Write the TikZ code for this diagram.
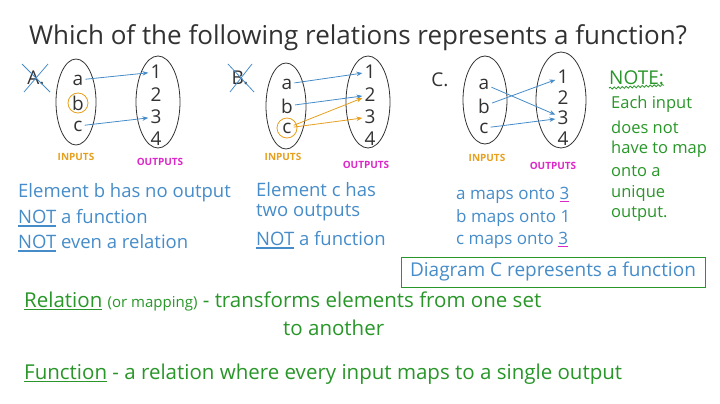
\documentclass[tikz,border=0pt]{standalone}
\usepackage{fontspec}
\setmainfont{Open Sans}
\usetikzlibrary{arrows.meta,decorations.pathmorphing,shapes.geometric}
\definecolor{inkblue}{RGB}{70,140,200}
\definecolor{inkgreen}{RGB}{40,150,40}
\definecolor{inkorange}{RGB}{230,160,30}
\definecolor{inkpink}{RGB}{220,40,200}
\definecolor{inkgray}{RGB}{50,50,50}
\tikzset{setOval/.style={draw=inkgray,thick,ellipse,minimum width=40pt,minimum height=86pt},
         elem/.style={inner sep=1pt,font=\fontsize{19}{19}\selectfont,text=inkgray},
         mapArrow/.style={-{Stealth[length=6pt]},thick,inkblue,shorten >=1pt,shorten <=1pt},
         twoArrow/.style={mapArrow,inkorange},
         setLabel/.style={font=\bfseries\fontsize{10}{10}\selectfont},
         blueLine/.style={anchor=west,text=inkblue,font=\fontsize{18.5}{18.5}\selectfont,inner sep=0pt},
         greenLine/.style={anchor=west,text=inkgreen,font=\fontsize{20.5}{20.5}\selectfont,inner sep=0pt},
         noteLine/.style={anchor=west,text=inkgreen,font=\fontsize{16.5}{16.5}\selectfont,inner sep=0pt}}
\newcommand{\ul}[2][inkblue]{\setbox0\hbox{#2}\rlap{\color{#1}\rule[-3pt]{\wd0}{1.2pt}}\box0}
\begin{document}
\begin{tikzpicture}[x=1pt,y=-1pt]
\useasboundingbox (0,0) rectangle (720,404);
%TITLE
\node [text=inkgray,font=\fontsize{26}{26}\selectfont] (title) at (358,38) {Which of the following relations represents a function?};

%A
\node [elem] (labA) at (36,78) {A.};
\draw [inkblue,thick] (22,64) -- (50,92) (48,64) -- (24,92);
\node [setOval] (inA) at (76,102) {};
\node [setOval,minimum width=44pt,minimum height=92pt] (outA) at (158,102) {};
\node [elem] (Aa) at (78,80) {a};
\node [elem] (Ab) at (78,103) {b};
\node [elem] (Ac) at (78,126) {c};
\draw [inkorange,thick] (Ab) circle (10pt);
\node [elem] (A1) at (156,72) {1};
\node [elem] (A2) at (156,95) {2};
\node [elem] (A3) at (156,117) {3};
\node [elem] (A4) at (156,139) {4};
\node [setLabel,text=inkorange] (inLabA) at (76,157) {INPUTS};
\node [setLabel,text=inkpink] (outLabA) at (160,162) {OUTPUTS};
\draw [mapArrow] (Aa) -- (A1);
\draw [mapArrow] (Ac) -- (A3);

%B
\node [elem] (labB) at (240,78) {B.};
\draw [inkblue,thick] (228,64) -- (254,92) (252,64) -- (230,92);
\node [setOval] (inB) at (286,106) {};
\node [setOval,minimum width=44pt,minimum height=92pt] (outB) at (368,102) {};
\node [elem] (Ba) at (287,84) {a};
\node [elem] (Bb) at (287,106) {b};
\node [elem] (Bc) at (287,128) {c};
\draw [inkorange,thick] (Bc) circle (10pt);
\node [elem] (B1) at (370,72) {1};
\node [elem] (B2) at (370,95) {2};
\node [elem] (B3) at (370,117) {3};
\node [elem] (B4) at (370,139) {4};
\node [setLabel,text=inkorange] (inLabB) at (283,157) {INPUTS};
\node [setLabel,text=inkpink] (outLabB) at (366,165) {OUTPUTS};
\draw [mapArrow] (Ba) -- (B1);
\draw [mapArrow] (Bb) -- (B2);
\draw [twoArrow] (Bc) -- (B2);
\draw [twoArrow] (Bc) -- (B3);

%C
\node [elem] (labC) at (440,80) {C.};
\node [setOval,minimum width=44pt,minimum height=88pt] (inC) at (485,100) {};
\node [setOval,minimum width=50pt,minimum height=96pt] (outC) at (561,100) {};
\node [elem] (Ca) at (484,84) {a};
\node [elem] (Cb) at (484,106) {b};
\node [elem] (Cc) at (484,128) {c};
\node [elem] (C1) at (563,77) {1};
\node [elem] (C2) at (563,98) {2};
\node [elem] (C3) at (563,118) {3};
\node [elem] (C4) at (563,139) {4};
\node [setLabel,text=inkorange] (inLabC) at (487,158) {INPUTS};
\node [setLabel,text=inkpink] (outLabC) at (553,166) {OUTPUTS};
\draw [mapArrow] (Ca) -- (C3);
\draw [mapArrow] (Cb) -- (C1);
\draw [mapArrow] (Cc) -- (C3);

%NOTE
\node [noteLine,font=\fontsize{19}{19}\selectfont] (note) at (609,78) {NOTE:};
\draw [inkgreen,thick,decorate,decoration={snake,amplitude=1pt,segment length=4pt}] (note.south west) ++(0,3) -- (note.south east);
\node [noteLine] (n1) at (611,104) {Each input};
\node [noteLine] (n2) at (611,127) {does not};
\node [noteLine] (n3) at (611,149) {have to map};
\node [noteLine] (n4) at (611,171) {onto a};
\node [noteLine] (n5) at (611,193) {unique};
\node [noteLine] (n6) at (611,214) {output.};

%TEXTS
\node [blueLine] (tA1) at (18,193) {Element b has no output};
\node [blueLine] (tA2) at (18,218) {\ul{NOT}\ a function};
\node [blueLine] (tA3) at (18,243) {\ul{NOT}\ even a relation};
\node [blueLine] (tB1) at (256,190) {Element c has};
\node [blueLine] (tB2) at (256,213) {two outputs};
\node [blueLine] (tB3) at (256,240) {\ul{NOT}\ a function};
\node [blueLine,font=\fontsize{17}{17}\selectfont] (tC1) at (456,195) {a maps onto \ul[inkpink]{3}};
\node [blueLine,font=\fontsize{17}{17}\selectfont] (tC2) at (456,218) {b maps onto 1};
\node [blueLine,font=\fontsize{17}{17}\selectfont] (tC3) at (456,240) {c maps onto \ul[inkpink]{3}};
\node [draw=inkgreen,thick,text=inkblue,font=\fontsize{19}{19}\selectfont,minimum width=304pt,minimum height=30pt] (answer) at (553,272) {Diagram C represents a function};

\node [greenLine] (rel) at (24,301) {\ul[inkgreen]{Relation}\ {\fontsize{15}{15}\selectfont(or mapping)} - transforms elements from one set};
\node [greenLine] (rel2) at (283,328) {to another};
\node [greenLine] (fun) at (24,374) {\ul[inkgreen]{Function}\ - a relation where every input maps to a single output};
\end{tikzpicture}
\end{document}
